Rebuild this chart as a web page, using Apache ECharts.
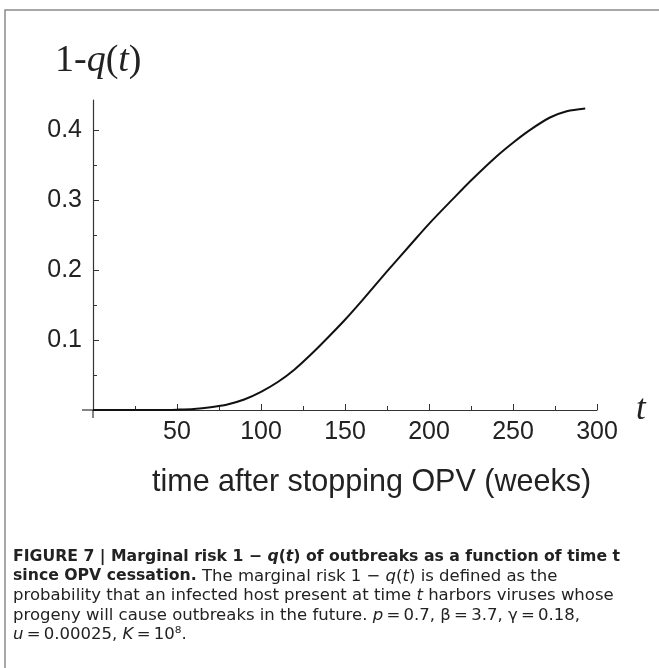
<!DOCTYPE html>
<html>
<head>
<meta charset="utf-8">
<script src="https://cdn.jsdelivr.net/npm/echarts@6/dist/echarts.min.js"></script>
<style>
    body { margin: 0; background: #fff; }
    #main { width: 659px; height: 668px; }
</style>
</head>
<body>
<div id="main"></div>
<script>
'use strict'
// figure 7: marginal risk 1-q(t) against weeks after stopping OPV

// curve (t in weeks, 1-q(t))
var weeks = [0, 10, 20, 30, 40, 50, 60, 70, 80, 90, 100, 110, 120, 130, 140,
             150, 160, 175, 190, 200, 214, 225, 240, 250, 260, 272, 282, 293];
var risk = [0, 0, 0, 0, 0, 0.0005, 0.0015, 0.004, 0.008, 0.015, 0.026, 0.040, 0.058, 0.080, 0.104,
            0.129, 0.156, 0.198, 0.239, 0.266, 0.301, 0.328, 0.362, 0.382, 0.400, 0.418, 0.427, 0.431];

var yMajor = [0.1, 0.2, 0.3, 0.4];
var yMinor = [0.05, 0.15, 0.25, 0.35];

var sans = '"Liberation Sans", Arial, Helvetica, sans-serif';
var wide = '"DejaVu Sans", Verdana, sans-serif';
var serif = '"Liberation Serif", "Times New Roman", serif';
var ink = '#222';
var axisInk = '#333';

var points = weeks.map(function (w, i) {
    return [w, risk[i]];
});

var caption =
    '{b|FIGURE 7 | Marginal risk 1 \u2212 }{bi|q}{b|(}{bi|t}{b|) of outbreaks as a function of time t}\n' +
    '{b|since OPV cessation.}{r| The marginal risk 1 \u2212 }{i|q}{r|(}{i|t}{r|) is defined as the}\n' +
    '{r|probability that an infected host present at time }{i|t}{r| harbors viruses whose}\n' +
    '{r|progeny will cause outbreaks in the future. }{i|p}{r|\u2009=\u20090.7, \u03b2\u2009=\u20093.7, \u03b3\u2009=\u20090.18,}\n' +
    '{i|u}{r|\u2009=\u20090.00025, }{i|K}{r|\u2009=\u200910\u2078.}';

function capStyle(size, weight, style) {
    return {
        fontFamily: wide,
        fontSize: size,
        lineHeight: 19.5,
        fontWeight: weight,
        fontStyle: style,
        color: ink
    };
}

var option = {
    backgroundColor: '#fff',
    animation: false,
    title: [
        {
            // y axis label
            text: '{n|1-}{i|q}{n|(}{i|t}{n|)}',
            left: 55,
            top: 42,
            padding: 0,
            textStyle: {
                fontWeight: 'normal',
                rich: {
                    n: { fontFamily: serif, fontSize: 38, fontWeight: 'normal', color: ink },
                    i: { fontFamily: serif, fontSize: 38, fontWeight: 'normal', fontStyle: 'italic', color: ink }
                }
            }
        },
        {
            text: 'time after stopping OPV (weeks)',
            left: 152,
            top: 467,
            padding: 0,
            textStyle: { fontFamily: sans, fontSize: 30.5, fontWeight: 'normal', color: ink }
        },
        {
            text: caption,
            left: 13,
            top: 547,
            padding: 0,
            textStyle: {
                fontFamily: wide,
                fontSize: 16.5,
                lineHeight: 19.5,
                fontWeight: 'normal',
                color: ink,
                rich: {
                    b: capStyle(15.7, 'bold', 'normal'),
                    bi: capStyle(15.7, 'bold', 'italic'),
                    r: capStyle(16.5, 'normal', 'normal'),
                    i: capStyle(16.5, 'normal', 'italic')
                }
            }
        }
    ],
    grid: {
        left: 93,
        right: 62,
        top: 100,
        bottom: 258
    },
    xAxis: {
        type: 'value',
        min: 0,
        max: 300,
        interval: 50,
        name: 't',
        nameLocation: 'end',
        nameGap: 39,
        nameTextStyle: { fontFamily: serif, fontSize: 35, fontStyle: 'italic', color: ink },
        axisLine: { lineStyle: { color: axisInk, width: 1.2 } },
        axisTick: { inside: true, length: 6, lineStyle: { color: axisInk } },
        minorTick: { show: true, splitNumber: 2, length: 4, lineStyle: { color: axisInk } },
        axisLabel: { showMinLabel: false, margin: 10, fontFamily: sans, fontSize: 25, color: ink },
        splitLine: { show: false }
    },
    yAxis: [
        {
            type: 'value',
            position: 'left',
            min: 0,
            max: 0.443,
            axisLine: { show: true, lineStyle: { color: axisInk, width: 1.2 } },
            axisTick: { show: true, inside: true, length: 6, customValues: yMajor, lineStyle: { color: axisInk } },
            axisLabel: { customValues: yMajor, margin: 11, fontFamily: sans, fontSize: 25, color: ink },
            splitLine: { show: false }
        },
        {
            // minor ticks only
            type: 'value',
            position: 'left',
            min: 0,
            max: 0.443,
            axisLine: { show: false },
            axisTick: { show: true, inside: true, length: 4, customValues: yMinor, lineStyle: { color: axisInk } },
            axisLabel: { show: false },
            splitLine: { show: false }
        }
    ],
    series: [
        {
            type: 'line',
            data: points,
            smooth: 0.3,
            showSymbol: false,
            lineStyle: { color: '#111', width: 2 }
        }
    ]
};

var myChart = echarts.init(document.getElementById('main'));
myChart.setOption(option);

// frame round the figure, plus the small stubs where the axes run past the origin
var origin = myChart.convertToPixel({ gridIndex: 0 }, [0, 0]);
myChart.setOption({
    graphic: [
        {
            type: 'polyline',
            shape: { points: [[5, 668], [5, 10], [659, 10]] },
            style: { stroke: '#8a8a8a', lineWidth: 1.5, fill: null },
            silent: true
        },
        {
            type: 'line',
            shape: { x1: origin[0] - 11, y1: origin[1], x2: origin[0], y2: origin[1] },
            style: { stroke: axisInk, lineWidth: 1.2 },
            silent: true
        },
        {
            type: 'line',
            shape: { x1: origin[0], y1: origin[1], x2: origin[0], y2: origin[1] + 8 },
            style: { stroke: axisInk, lineWidth: 1.2 },
            silent: true
        }
    ]
});
</script>
</body>
</html>
